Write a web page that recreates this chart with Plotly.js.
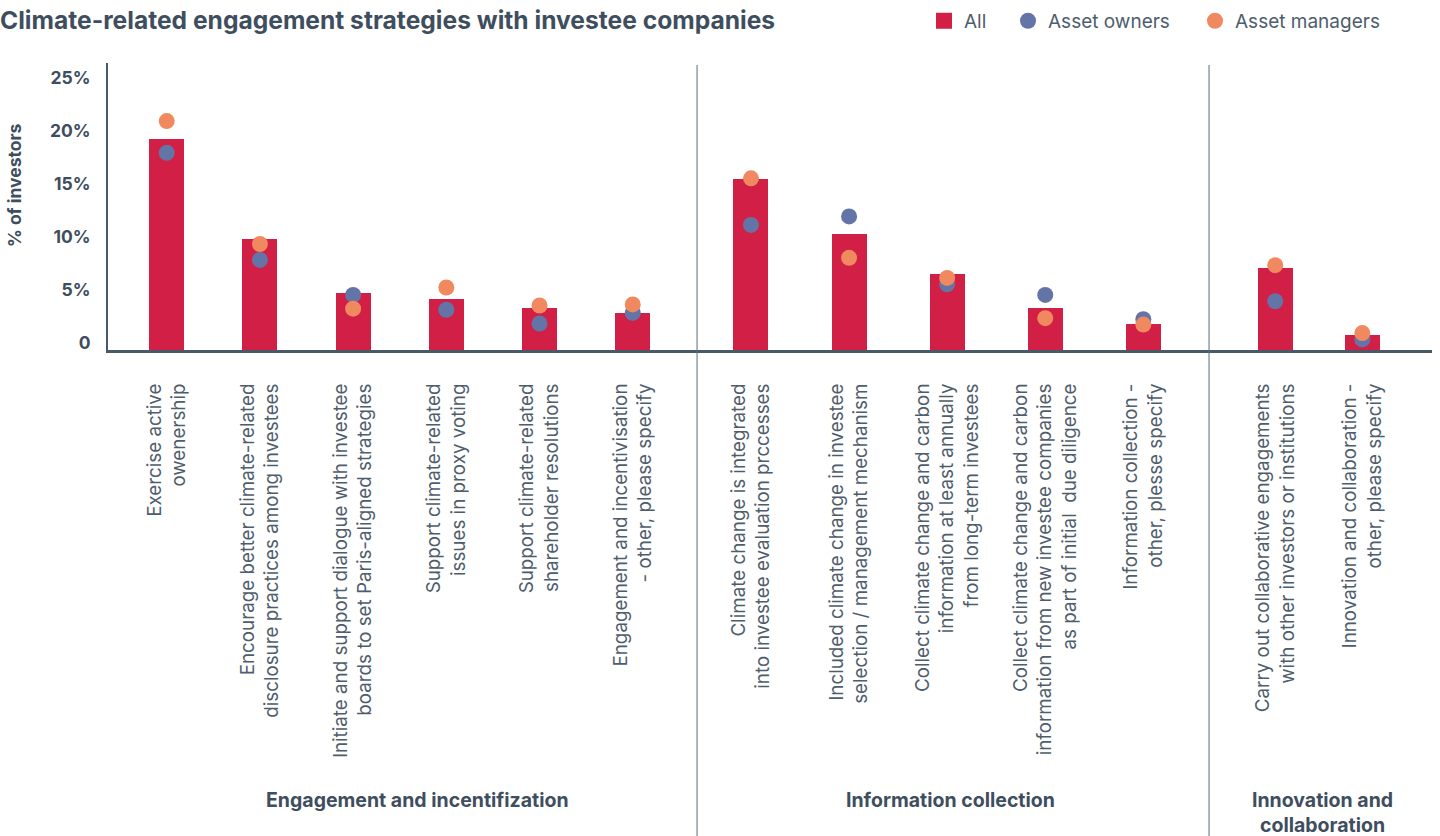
<!DOCTYPE html>
<html>
<head>
<meta charset="utf-8">
<script src="https://cdn.plot.ly/plotly-3.0.1.min.js"></script>
<style>html,body{margin:0;padding:0;background:#fff;}#chart{width:1440px;height:836px;}</style>
</head>
<body>
<div id="chart"></div>
<script>
const categories = [
  "Exercise active<br>owenership",
  "Encourage better climate-related<br>disclosure practices among investees",
  "Initiate and support dialogue with investee<br>boards to set Paris-aligned strategies",
  "Support climate-related<br>issues in proxy voting",
  "Support climate-related<br>shareholder resolutions",
  "Engagement and incentivisation<br>- other, please specify",
  "Climate change is integrated<br>into investee evaluation prccesses",
  "Included climate change in investee<br>selection / management mechanism",
  "Collect climate change and carbon<br>information at least annually<br>from long-term investees",
  "Collect climate change and carbon<br>information from new investee companies<br>as part of initial  due diligence",
  "Information collection -<br>other, plesse specify",
  "Carry out collaborative engagements<br>with other investors or institutions",
  "Innovation and collaboration -<br>other, please specify"
];
const groupOf = [0,0,0,0,0,0,1,1,1,1,1,2,2];
const groupNames = ["Engagement and incentifization", "Information collection", "Innovation and<br>collaboration"];
const allValues = [19.9, 10.5, 5.4, 4.8, 4.0, 3.5, 16.1, 10.9, 7.2, 4.0, 2.5, 7.7, 1.4];
const ownersValues = [18.6, 8.5, 5.2, 3.8, 2.5, 3.5, 11.8, 12.6, 6.2, 5.2, 2.9, 4.6, 1.0];
const managersValues = [21.6, 10.0, 3.9, 5.9, 4.2, 4.3, 16.2, 8.7, 6.8, 3.0, 2.4, 8.0, 1.6];
const seriesNames = ["All", "Asset owners", "Asset managers"];
const yTickVals = [0, 5, 10, 15, 20, 25];
const yTickText = ["0", "5%", "10%", "15%", "20%", "25%"];

const RED = "#d21f45", BLUE = "#6374a6", ORANGE = "#f0895f";
const TEXT = "#3e4e5e", LABEL = "#4e5d6c", AXIS = "#4a5968";
const FONT = "Inter, Roboto, sans-serif";

const xDomains = [[0, 0.4449], [0.4449, 0.8316], [0.8316, 1]];
const xRanges = [[-0.63, 5.69], [-0.55, 4.67], [-0.76, 1.8]];
const barWidths = [0.375, 0.357, 0.40];

const traces = [];
// legend-only entry for the bar series (larger square swatch)
traces.push({type: "scatter", mode: "markers", x: [null], y: [null], name: seriesNames[0],
  marker: {color: RED, size: 16, symbol: "square"}, legend: "legend", legendgroup: "all", hoverinfo: "skip"});
for (let g = 0; g < 3; g++) {
  const idx = categories.map((c, i) => i).filter(i => groupOf[i] === g);
  const xa = g === 0 ? "x" : "x" + (g + 1);
  const cats = idx.map(i => categories[i]);
  traces.push({
    type: "bar", x: cats, y: idx.map(i => allValues[i]), name: seriesNames[0],
    xaxis: xa, yaxis: "y", marker: {color: RED}, width: barWidths[g],
    legendgroup: "all", showlegend: false, hoverinfo: "y"
  });
  traces.push({
    type: "scatter", mode: "markers", x: cats, y: idx.map(i => ownersValues[i]), name: seriesNames[1],
    xaxis: xa, yaxis: "y", marker: {color: BLUE, size: 16}, legend: "legend2",
    legendgroup: "own", showlegend: g === 0, hoverinfo: "y"
  });
  traces.push({
    type: "scatter", mode: "markers", x: cats, y: idx.map(i => managersValues[i]), name: seriesNames[2],
    xaxis: xa, yaxis: "y", marker: {color: ORANGE, size: 16}, legend: "legend3",
    legendgroup: "man", showlegend: g === 0, hoverinfo: "y"
  });
}

function xAxis(g) {
  return {
    domain: xDomains[g], anchor: "y", type: "category", range: xRanges[g],
    showline: true, linecolor: AXIS, linewidth: 3, showgrid: false, zeroline: false,
    ticks: "", tickangle: -90, ticklabelstandoff: 23,
    tickfont: {family: FONT, size: 18.8, color: LABEL}, fixedrange: true
  };
}

const shapes = [];
[xDomains[1][0], xDomains[2][0]].forEach(xp => {
  shapes.push({type: "line", xref: "paper", yref: "paper", x0: xp, x1: xp, y0: 0.993, y1: -1.70,
    line: {color: "#5b6a79", width: 1}});
});

const annotations = [];
const groupCenters = [0.2334, 0.6367, 0.917];
const groupYs = [-1.568, -1.568, -1.613];
groupNames.forEach((t, g) => {
  annotations.push({text: t, xref: "paper", yref: "paper", x: groupCenters[g], y: groupYs[g],
    xanchor: "center", yanchor: "middle", showarrow: false, align: "center",
    font: {family: FONT, size: 19.5, color: TEXT, weight: 700}});
});
annotations.push({text: "% of investors", xref: "paper", yref: "paper", x: -0.0702, y: 0.575,
  xanchor: "center", yanchor: "middle", textangle: -90, showarrow: false,
  font: {family: FONT, size: 17.5, color: TEXT, weight: 700}});

function legendAt(px) {
  return {orientation: "h", xref: "container", yref: "container", x: px / 1440, xanchor: "left",
    y: 0.975, yanchor: "middle", font: {family: FONT, size: 19, color: LABEL},
    itemwidth: 30, bgcolor: "rgba(0,0,0,0)", borderwidth: 0};
}

const layout = {
  width: 1440, height: 836,
  margin: {l: 108, r: 8, t: 63, b: 486, pad: 0},
  paper_bgcolor: "#fff", plot_bgcolor: "#fff",
  font: {family: FONT, color: TEXT},
  title: {text: "Climate-related engagement strategies with investee companies",
    xref: "container", x: 0, xanchor: "left", yref: "container", y: 0.976, yanchor: "middle",
    pad: {l: 0, t: 0, b: 0, r: 0},
    font: {family: FONT, size: 24.6, color: TEXT, weight: 700}},
  xaxis: xAxis(0), xaxis2: xAxis(1), xaxis3: xAxis(2),
  yaxis: {
    range: [0, 27.08], tickvals: yTickVals, ticktext: yTickText,
    showline: true, linecolor: AXIS, linewidth: 2, showgrid: false, zeroline: false,
    ticks: "", ticklabelstandoff: 12, ticklabelshift: -7,
    tickfont: {family: FONT, size: 17.5, color: TEXT, weight: 700},
    fixedrange: true
  },
  showlegend: true,
  legend: legendAt(924), legend2: legendAt(1008), legend3: legendAt(1195),
  shapes: shapes, annotations: annotations, bargap: 0
};

Plotly.newPlot("chart", traces, layout, {displayModeBar: false, staticPlot: true});
</script>
</body>
</html>
